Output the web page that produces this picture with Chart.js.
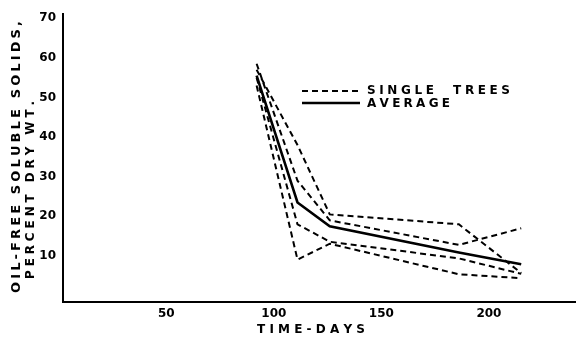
<!DOCTYPE html>
<html>
<head>
<meta charset="utf-8">
<script src="https://cdn.jsdelivr.net/npm/chart.js@4.4.1/dist/chart.umd.min.js"></script>
<style>
  body { margin: 0; background: #fff; }
  canvas { display: block; }
</style>
</head>
<body>
<canvas id="chart" width="577" height="342"></canvas>
<script>
// sampling days and values
const days = [92, 111, 126, 186, 215];
const treeA = [53, 9.1, 13.1, 5.4, 4.4];
const treeB = [55, 18, 13.6, 9.4, 5.5];
const treeC = [58.5, 29, 19, 12.8, 17];
const treeD = [57, 38, 20.5, 18, 5.7];
const average = [55.5, 23.5, 17.5, 10.9, 7.9];

const xTicks = [50, 100, 150, 200];
const yTicks = [10, 20, 30, 40, 50, 60, 70];

const FONT = '"DejaVu Sans", sans-serif';

const toPoints = (vals) => vals.map((v, i) => ({ x: days[i], y: v }));

const dashed = (vals) => ({
  data: toPoints(vals),
  borderColor: "#000",
  borderWidth: 2,
  borderDash: [6, 4],
  pointRadius: 0,
  fill: false,
  tension: 0,
});

// draw text spread over a given width, letter by letter
function spacedText(ctx, text, x, y, width) {
  const chars = [...text];
  let total = 0;
  chars.forEach((c) => (total += ctx.measureText(c).width));
  const gap = chars.length > 1 ? (width - total) / (chars.length - 1) : 0;
  let cx = x;
  chars.forEach((c) => {
    ctx.fillText(c, cx, y);
    cx += ctx.measureText(c).width + gap;
  });
}

const labelsPlugin = {
  id: "labels",
  afterDraw(chart) {
    const ctx = chart.ctx;
    ctx.save();
    ctx.fillStyle = "#000";
    ctx.textBaseline = "middle";
    ctx.textAlign = "left";

    // y title, two rotated lines
    ctx.font = "bold 13px " + FONT;
    ctx.save();
    ctx.translate(17, 293);
    ctx.rotate(-Math.PI / 2);
    spacedText(ctx, "OIL-FREE SOLUBLE SOLIDS,", 0, 0, 272);
    ctx.restore();

    ctx.font = "bold 12px " + FONT;
    ctx.save();
    ctx.translate(31, 279);
    ctx.rotate(-Math.PI / 2);
    spacedText(ctx, "PERCENT DRY WT.", 0, 0, 178);
    ctx.restore();

    // x title
    ctx.font = "bold 12px " + FONT;
    spacedText(ctx, "TIME-DAYS", 257, 330, 108);

    // legend
    ctx.strokeStyle = "#000";
    ctx.lineWidth = 2;
    ctx.setLineDash([6, 4]);
    ctx.beginPath();
    ctx.moveTo(302, 91);
    ctx.lineTo(360, 91);
    ctx.stroke();
    ctx.setLineDash([]);
    ctx.lineWidth = 2.5;
    ctx.beginPath();
    ctx.moveTo(302, 103);
    ctx.lineTo(360, 103);
    ctx.stroke();

    ctx.font = "bold 12px " + FONT;
    spacedText(ctx, "SINGLE  TREES", 367, 91, 143);
    spacedText(ctx, "AVERAGE", 367, 104, 83);
    ctx.restore();
  },
};

new Chart(document.getElementById("chart"), {
  type: "line",
  data: {
    datasets: [
      dashed(treeA),
      dashed(treeB),
      dashed(treeC),
      dashed(treeD),
      {
        data: toPoints(average),
        borderColor: "#000",
        borderWidth: 2.6,
        pointRadius: 0,
        fill: false,
        tension: 0,
      },
    ],
  },
  options: {
    responsive: false,
    animation: false,
    layout: { padding: { top: 8, right: 2, left: 0, bottom: 0 } },
    plugins: { legend: { display: false }, tooltip: { enabled: false } },
    scales: {
      x: {
        type: "linear",
        min: 2,
        max: 240,
        afterBuildTicks: (s) => { s.ticks = xTicks.map((v) => ({ value: v })); },
        afterFit: (s) => { s.height = 40; },
        grid: { display: false, drawTicks: false },
        border: { display: true, color: "#000", width: 2 },
        ticks: { color: "#000", padding: 5, font: { family: FONT, size: 12, weight: "bold" } },
      },
      y: {
        min: -1.6,
        max: 71,
        afterBuildTicks: (s) => { s.ticks = yTicks.map((v) => ({ value: v })); },
        afterFit: (s) => { s.width = 63; },
        grid: { display: false, drawTicks: false },
        border: { display: true, color: "#000", width: 2 },
        ticks: { color: "#000", padding: 7, font: { family: FONT, size: 12, weight: "bold" } },
      },
    },
  },
  plugins: [labelsPlugin],
});
</script>
</body>
</html>
